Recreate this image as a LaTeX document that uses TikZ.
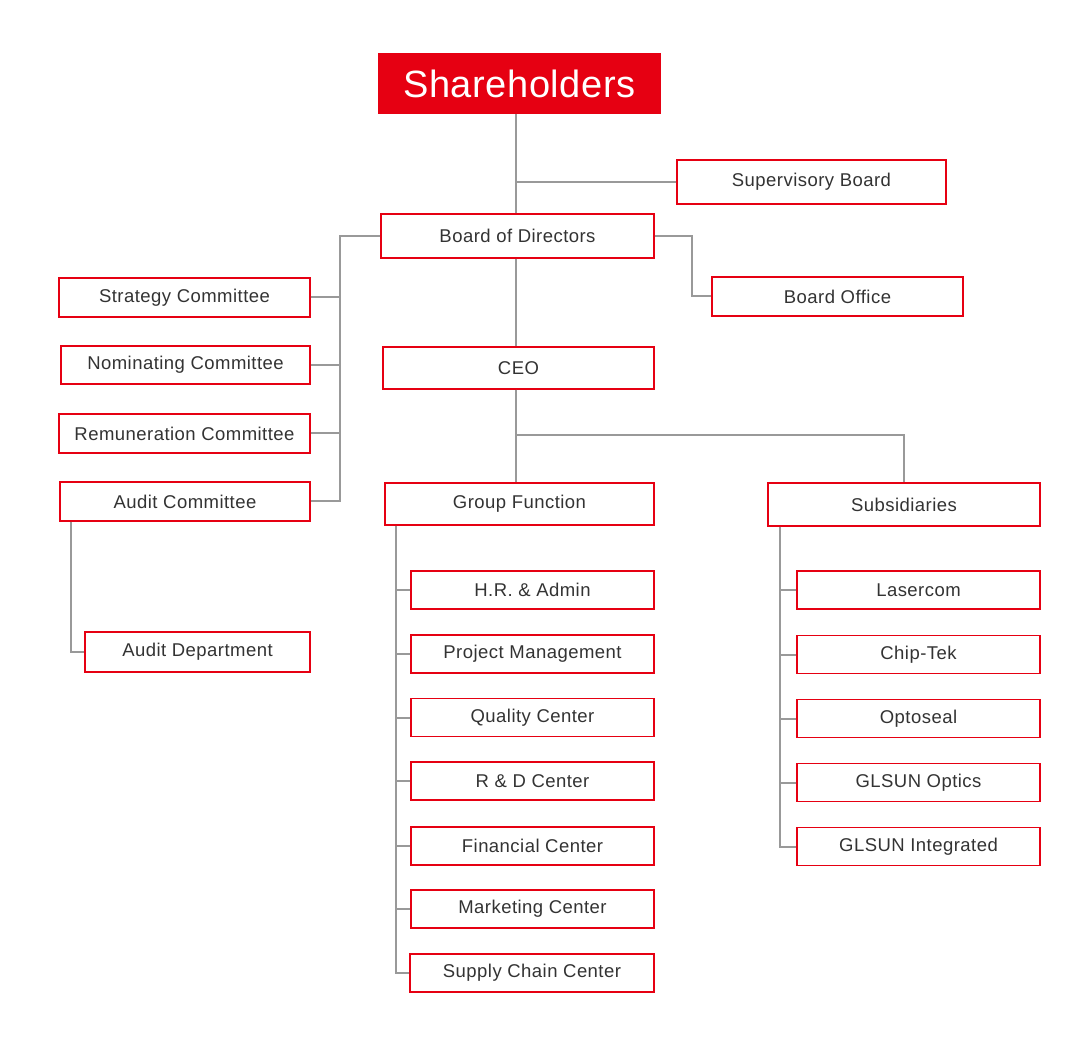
\documentclass[tikz,border=0pt]{standalone}
\usepackage{fontspec}
\setmainfont{Liberation Sans}
\newfontfamily\gsfont[LetterSpace=2.5]{Liberation Sans}
\newfontfamily\gsbigfont[LetterSpace=1.5]{Liberation Sans}
\usepackage{tikz}
\definecolor{gsred}{HTML}{E60012}
\definecolor{gsline}{HTML}{999999}
\definecolor{gstext}{HTML}{333333}
\tikzset{
  unit/.style={rectangle, draw=gsred, line width=1.2pt, fill=white, inner sep=0pt,
    text=gstext, font=\gsfont\fontsize{18.5}{20}\selectfont},
  link/.style={draw=gsline, line width=2pt},
}

\begin{document}
\begin{tikzpicture}[x=1pt, y=-1pt]
    \useasboundingbox[fill=white] (0,0) rectangle (1085,1064);
    \coordinate (t) at (516, 0);
    \coordinate (lb) at (340, 0);
    \coordinate (ab) at (71, 0);
    \coordinate (gs) at (396, 0);
    \coordinate (ss) at (780, 0);

    \node[rectangle, fill=gsred, inner sep=0pt, minimum width=283pt, minimum height=61pt,
      text=white, font=\gsbigfont\fontsize{38}{40}\selectfont] (share) at (519.5, 83.5) {Shareholders};
    \node[unit, minimum width=269pt, minimum height=44pt] (sup) at (811.5, 182) {Supervisory Board};
    \node[unit, minimum width=273pt, minimum height=44pt] (bod) at (517.5, 236) {Board of Directors};
    \node[unit, minimum width=251pt, minimum height=39pt] (boff) at (837.5, 296.5) {Board Office};

    \node[unit, minimum width=251pt, minimum height=39pt] (strat) at (184.5, 297.5) {Strategy Committee};
    \node[unit, minimum width=249pt, minimum height=38pt] (nom) at (185.5, 365) {Nominating Committee};
    \node[unit, minimum width=251pt, minimum height=39pt] (rem) at (184.5, 433.5) {Remuneration Committee};
    \node[unit, minimum width=250pt, minimum height=39pt] (aud) at (185, 501.5) {Audit Committee};
    \node[unit, minimum width=225pt, minimum height=40pt] (adep) at (197.5, 652) {Audit Department};

    \node[unit, minimum width=271pt, minimum height=42pt] (ceo) at (518.5, 368) {CEO};
    \node[unit, minimum width=269pt, minimum height=42pt] (grp) at (519.5, 504) {Group Function};
    \node[unit, minimum width=272pt, minimum height=43pt] (subs) at (904, 504.5) {Subsidiaries};

    \node[unit, minimum width=243pt, minimum height=38pt] (hr) at (532.5, 590) {H.R. \& Admin};
    \node[unit, minimum width=243pt, minimum height=38pt] (pm) at (532.5, 654) {Project Management};
    \node[unit, minimum width=243pt, minimum height=38pt] (qc) at (532.5, 717.5) {Quality Center};
    \node[unit, minimum width=243pt, minimum height=38pt] (rd) at (532.5, 781) {R \& D Center};
    \node[unit, minimum width=243pt, minimum height=38pt] (fc) at (532.5, 846) {Financial Center};
    \node[unit, minimum width=243pt, minimum height=38pt] (mc) at (532.5, 909) {Marketing Center};
    \node[unit, minimum width=244pt, minimum height=38pt] (sc) at (532, 973) {Supply Chain Center};

    \node[unit, minimum width=243pt, minimum height=38pt] (laser) at (918.5, 590) {Lasercom};
    \node[unit, minimum width=243pt, minimum height=38pt] (chip) at (918.5, 654.5) {Chip-Tek};
    \node[unit, minimum width=243pt, minimum height=38pt] (opto) at (918.5, 718.5) {Optoseal};
    \node[unit, minimum width=243pt, minimum height=38pt] (optics) at (918.5, 782.5) {GLSUN Optics};
    \node[unit, minimum width=243pt, minimum height=38pt] (integ) at (918.5, 846.5) {GLSUN Integrated};

    % board level
    \draw[link] (share.south -| t) -- (bod.north -| t);
    \draw[link] (sup.west) -- (sup.west -| t);
    \draw[link] (bod.east) -- ++(37,0) |- (boff.west);
    \draw[link] (bod.west) -| (aud.east -| lb) -- (aud.east);
    \draw[link] (strat.east) -- (strat.east -| lb);
    \draw[link] (nom.east) -- (nom.east -| lb);
    \draw[link] (rem.east) -- (rem.east -| lb);
    \draw[link] (aud.south -| ab) |- (adep.west);

    % management
    \draw[link] (bod.south -| t) -- (ceo.north -| t);
    \draw[link] (ceo.south -| t) -- (grp.north -| t);
    \draw[link] (ceo.south -| t) -- ++(0,45) -| (subs.north);

    % group function
    \draw[link] (grp.south -| gs) |- (sc.west);
    \draw[link] (hr.west) -- (hr.west -| gs);
    \draw[link] (pm.west) -- (pm.west -| gs);
    \draw[link] (qc.west) -- (qc.west -| gs);
    \draw[link] (rd.west) -- (rd.west -| gs);
    \draw[link] (fc.west) -- (fc.west -| gs);
    \draw[link] (mc.west) -- (mc.west -| gs);

    % subsidiaries
    \draw[link] (subs.south -| ss) |- (integ.west);
    \draw[link] (laser.west) -- (laser.west -| ss);
    \draw[link] (chip.west) -- (chip.west -| ss);
    \draw[link] (opto.west) -- (opto.west -| ss);
    \draw[link] (optics.west) -- (optics.west -| ss);
\end{tikzpicture}
\end{document}
